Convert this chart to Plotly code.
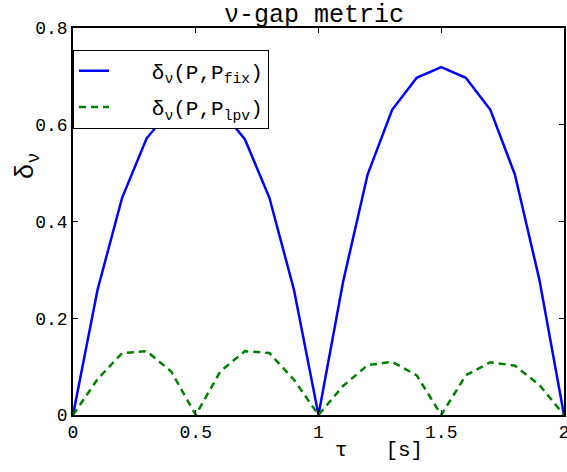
import plotly.graph_objects as go

tau = [0.0, 0.1, 0.2, 0.3, 0.4, 0.5, 0.6, 0.7, 0.8, 0.9, 1.0,
       1.1, 1.2, 1.3, 1.4, 1.5, 1.6, 1.7, 1.8, 1.9, 2.0]
gap_fix = [0.0, 0.259, 0.449, 0.572, 0.632, 0.652, 0.632, 0.570, 0.449, 0.259, 0.0,
           0.275, 0.497, 0.631, 0.697, 0.719, 0.697, 0.631, 0.497, 0.279, 0.0]
gap_lpv = [0.0, 0.074, 0.128, 0.132, 0.090, 0.0, 0.090, 0.132, 0.128, 0.073, 0.0,
           0.060, 0.103, 0.110, 0.082, 0.0, 0.082, 0.109, 0.102, 0.062, 0.0]

x_ticks = [0, 0.5, 1, 1.5, 2]
x_ticklabels = ['0', '0.5', '1', '1.5', '2']
y_ticks = [0, 0.2, 0.4, 0.6, 0.8]
y_ticklabels = ['0', '0.2', '0.4', '0.6', '0.8']

FONT = 'Liberation Mono'
PAD = '\u00a0' * 3  # push legend text right, like the wider matlab legend

fig = go.Figure()
fig.add_trace(go.Scatter(x=tau, y=gap_fix, mode='lines', legendgroup='fix',
                         name=PAD + 'δ<sub>ν</sub>(P,P<sub>fix</sub>)',
                         line=dict(color='#0000ff', width=2.5)))
fig.add_trace(go.Scatter(x=tau, y=gap_lpv, mode='lines', legendgroup='lpv',
                         name=PAD + 'δ<sub>ν</sub>(P,P<sub>lpv</sub>)',
                         line=dict(color='#008000', width=2.5, dash='7px,5px')))

axis_common = dict(showline=True, linecolor='black', linewidth=1.5, mirror='ticks',
                   ticks='inside', ticklen=5, tickcolor='black', showgrid=False,
                   zeroline=False, automargin=False, ticklabeloverflow='allow',
                   tickfont=dict(family=FONT, size=18, color='black'))

fig.update_layout(
    width=567, height=472,
    margin=dict(l=73, r=3, t=28, b=57),
    paper_bgcolor='white', plot_bgcolor='white',
    font=dict(family=FONT, color='black'),
    showlegend=True,
    legend=dict(x=0, y=0.944, xanchor='left', yanchor='top',
                bgcolor='white', bordercolor='black', borderwidth=1,
                font=dict(family=FONT, size=21, color='black'),
                tracegroupgap=6),
    xaxis=dict(range=[0, 2], tickvals=x_ticks, ticktext=x_ticklabels, **axis_common),
    yaxis=dict(range=[0, 0.8], tickvals=y_ticks, ticktext=y_ticklabels, **axis_common),
)

fig.add_annotation(text='ν-gap metric', xref='paper', yref='paper', x=0.49, y=1,
                   xanchor='center', yanchor='bottom', yshift=-4, showarrow=False,
                   font=dict(family=FONT, size=25, color='black'))
fig.add_annotation(text='τ   [s]', xref='paper', yref='paper', x=0.624, y=-0.093,
                   xanchor='center', yanchor='middle', showarrow=False,
                   font=dict(family=FONT, size=21, color='black'))
fig.add_annotation(text='δ<sub>ν</sub>', xref='paper', yref='paper', x=-0.092, y=0.645,
                   xanchor='center', yanchor='middle', showarrow=False, textangle=-90,
                   font=dict(family=FONT, size=26, color='black'))

# drop the browser's default 8px body margin so the figure sits at 0,0
fig.write_html('out.html', config={'displayModeBar': False},
               post_script="document.body.style.margin = '0';")
